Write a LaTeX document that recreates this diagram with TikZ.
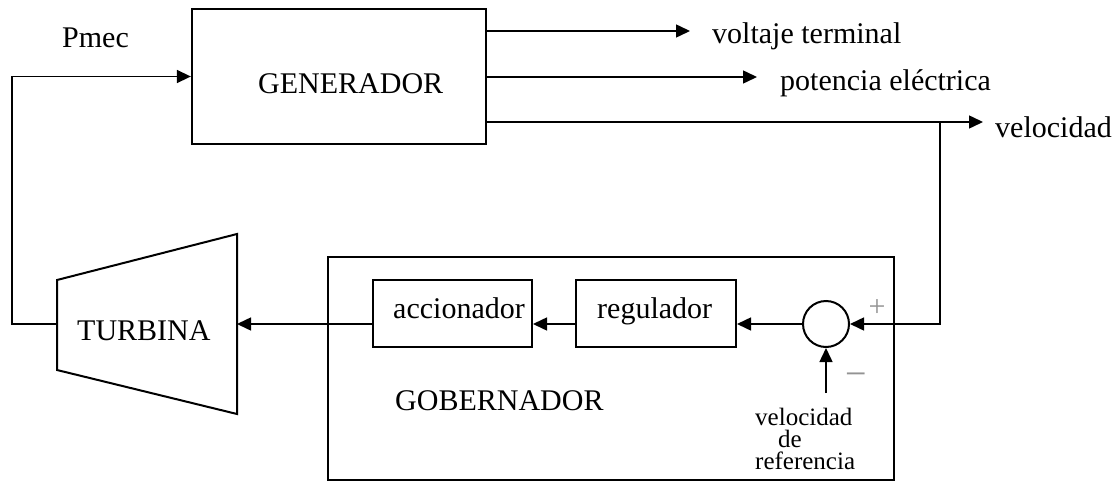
\documentclass[tikz,border=0pt]{standalone}
\usepackage{fontspec}
\setmainfont{Liberation Serif}
\usetikzlibrary{arrows.meta}
\begin{document}
\begin{tikzpicture}[x=1pt,y=-1pt,
  big/.style={font=\fontsize{30}{36}\selectfont, inner sep=0pt, anchor=base west},
  small/.style={font=\fontsize{25}{30}\selectfont, inner sep=0pt, anchor=base west},
  conn/.style={line width=1.5pt},
  arr/.style={conn, -{Triangle[length=14pt,width=13pt]}},
  blk/.style={draw, line width=2pt, inner sep=0pt},
  sgn/.style={text=gray!85, inner sep=0pt}]
\useasboundingbox (0,0) rectangle (1119,482);
% blocks
\node[blk, line width=2.3pt, minimum width=294pt, minimum height=135pt] (gen) at (339,76.5) {};
\node[big] (gentxt) at (258,93) {GENERADOR};
\node[draw, line width=1.5pt, minimum width=566pt, minimum height=223pt, inner sep=0pt] (gob) at (611,368.5) {};
\node[big] (gobtxt) at (395,410) {GOBERNADOR};
\node[blk, minimum width=159pt, minimum height=67pt] (acc) at (452.5,313.5) {};
\node[big] (acctxt) at (393,318) {accionador};
\node[blk, minimum width=160pt, minimum height=67pt] (reg) at (656,313.5) {};
\node[big] (regtxt) at (597,318) {regulador};
\node[draw, circle, line width=2pt, minimum size=46pt, inner sep=0pt] (sum) at (826,324) {};
% turbine
\coordinate (tlt) at (57,280);
\coordinate (tlb) at (57,370);
\coordinate (trt) at (237,234);
\coordinate (trb) at (237,414);
\draw[line width=2pt] (tlt) -- (trt) -- (trb) -- (tlb) -- cycle;
\node[big] (turbtxt) at (77,340) {TURBINA};
\coordinate (tin) at (237,324);
\coordinate (tout) at (57,324);
% outputs
\coordinate (vt) at (690,31);
\coordinate (pe) at (757,77);
\coordinate (ve) at (983,122);
\coordinate (fb) at (940,122);
\draw[arr] (gen.east |- vt) -- (vt);
\draw[arr] (gen.east |- pe) -- (pe);
\draw[arr] (gen.east |- ve) -- (ve);
\node[big] (vttxt) at (712,43) {voltaje terminal};
\node[big] (petxt) at (780,90) {potencia eléctrica};
\node[big] (vetxt) at (995,137) {velocidad};
% feedback
\draw[arr] (fb) -- (fb |- sum.east) -- (sum.east);
\node[sgn, font=\fontsize{30}{36}\selectfont] (plus) at (877,308) {+};
\coordinate (ref) at (826,393);
\draw[arr] (ref) -- (sum.south);
\node[sgn, font=\fontsize{38}{40}\selectfont] (minus) at (856,380) {−};
\node[small] (refa) at (755,425) {velocidad};
\node[small] (refb) at (778,447) {de};
\node[small] (refc) at (755,469) {referencia};
% forward chain
\draw[arr] (sum.west) -- (reg.east |- sum.west);
\draw[arr] (reg.west |- sum.west) -- (acc.east |- sum.west);
\draw[arr] (acc.west |- sum.west) -- (tin);
% mechanical power
\coordinate (c1) at (12,324);
\coordinate (c2) at (12,76.5);
\draw[arr] (tout) -- (c1) -- (c2) -- (gen.west);
\node[big] (pmec) at (62,47) {Pmec};
\end{tikzpicture}
\end{document}
